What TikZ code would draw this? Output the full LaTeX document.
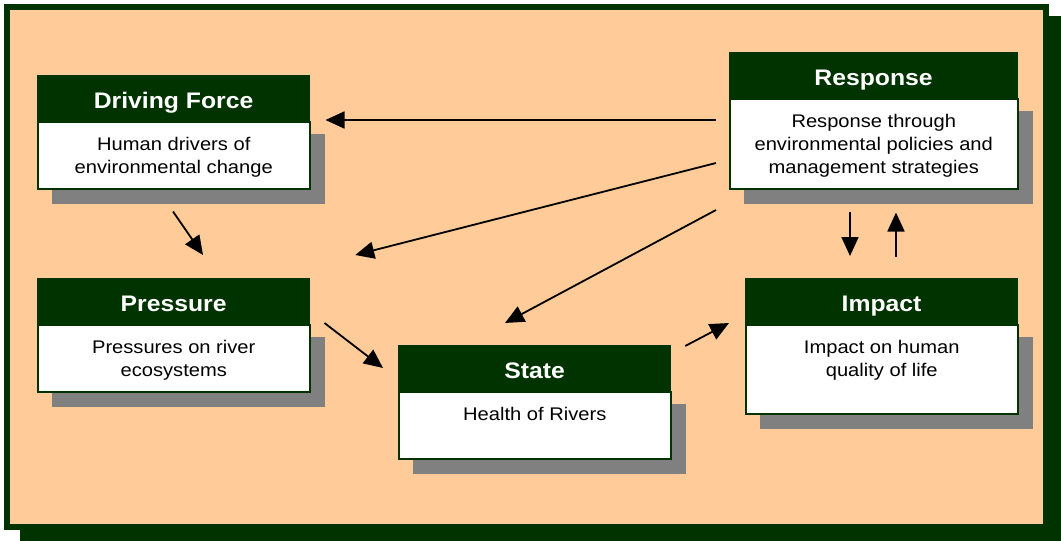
\documentclass[tikz,border=0pt]{standalone}
\usepackage{fontspec}
\setmainfont[FakeStretch=1.1]{Liberation Sans}
\usetikzlibrary{arrows.meta,calc}
\definecolor{frameGreen}{HTML}{003300}
\definecolor{peach}{HTML}{FFCC99}
\definecolor{shadowGray}{HTML}{808080}

% one DPSIR box: name, x, y (top left), width, body height, title, text
\newcommand\riverbox[7]{%
  \fill[shadowGray] (#2+15,#3+59) rectangle (#2+#4+16,#3+46+#5+16);
  \node[header, minimum width=#4pt] (#1-h) at (#2,#3) {#6};
  \node[body, minimum width=#4pt, minimum height=#5pt] (#1) at (#2,#3+46) {};
  \node[bodytext] (#1-t) at ([yshift=-16.5pt]#1.north) {#7};
}

\begin{document}
\begin{tikzpicture}[x=1pt,y=-1pt,
  header/.style={draw=frameGreen, line width=1.2pt, fill=frameGreen, text=white,
    font=\bfseries\fontsize{22.5}{26}\selectfont, minimum height=46pt, inner sep=0pt,
    anchor=north west, text height=20pt, text depth=0pt},
  body/.style={draw=frameGreen, line width=1.5pt, fill=white, inner sep=0pt, anchor=north west},
  bodytext/.style={font=\fontsize{18.3}{23}\selectfont, align=center, anchor=north, inner sep=0pt},
  arr/.style={line width=1.8pt, -{Triangle[length=19pt,width=17pt]}}
]
\useasboundingbox[fill=white] (0,0) rectangle (1061,541);

% frame with its shadow
\fill[frameGreen] (20,16) rectangle (1061,541);
\fill[frameGreen] (4,4) rectangle (1049,530);
\fill[peach] (10,10) rectangle (1043,524);

% boxes
\riverbox{df}{37}{75}{272}{67}{Driving Force}{Human drivers of\\environmental change}
\riverbox{resp}{729}{52}{288}{90}{Response}{Response through\\environmental policies and\\management strategies}
\riverbox{press}{37}{278}{272}{67}{Pressure}{Pressures on river\\ecosystems}
\riverbox{state}{398}{345}{272}{67}{State}{Health of Rivers}
\riverbox{impact}{745}{278}{272}{89}{Impact}{Impact on human\\quality of life}

% connectors
\draw[arr] ($(resp.north west)+(-13,22)$) -- ($(df.north east)+(15,-1)$);
\draw[arr] ($(resp.north west)+(-13,65)$) -- ($(press-h.north east)+(45,-23)$);
\draw[arr] ($(resp.north west)+(-13,112)$) -- ($(state-h.north west)+(107,-22)$);
\draw[arr] ($(df.south west)+(136,22)$) -- ($(press-h.north west)+(166,-23)$);
\draw[arr] ($(press.north east)+(14,-1)$) -- ($(state-h.north west)+(-15,23)$);
\draw[arr] ($(state-h.north east)+(14,1)$) -- ($(impact-h.north west)+(-16,45)$);
\draw[arr] ($(resp.south west)+(121,22)$) -- ($(impact-h.north west)+(105,-22)$);
\draw[arr] ($(impact-h.north west)+(151,-21)$) -- ($(resp.south west)+(167,23)$);
\end{tikzpicture}
\end{document}
